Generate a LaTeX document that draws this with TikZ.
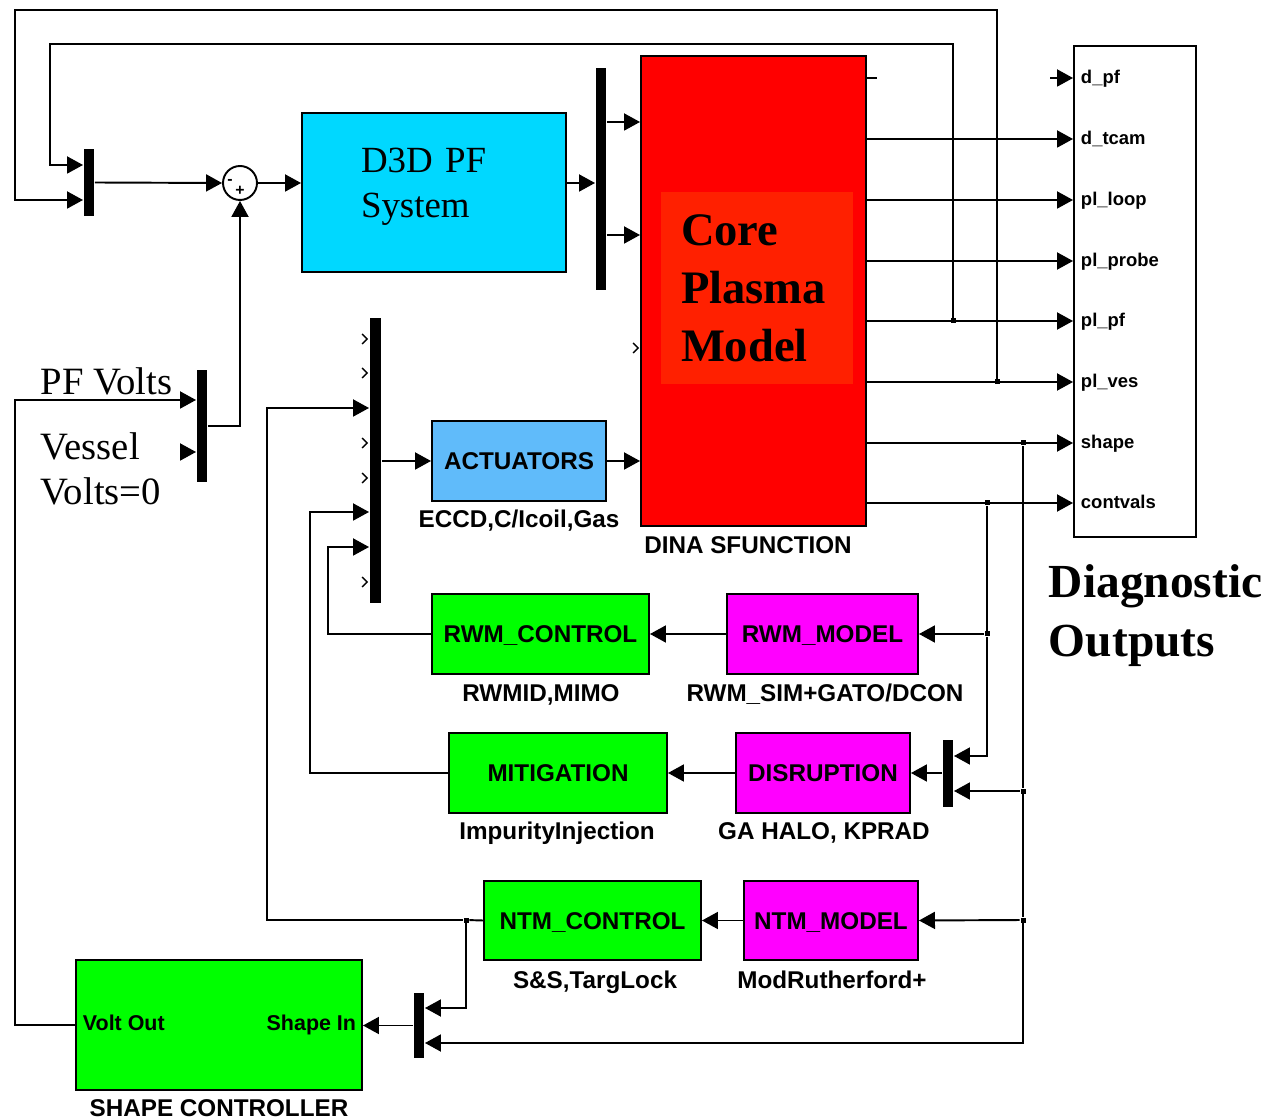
\documentclass[tikz,border=0pt]{standalone}
\usepackage{fontspec}
\setmainfont{Liberation Serif}
\setsansfont{Liberation Sans}
\usetikzlibrary{arrows.meta}

\definecolor{pfcyan}{RGB}{0,216,255}
\definecolor{actblue}{RGB}{96,187,250}
\definecolor{ctlgreen}{RGB}{0,255,0}
\definecolor{modmag}{RGB}{255,0,255}
\definecolor{plasred}{RGB}{255,32,0}

\begin{document}
\begin{tikzpicture}[
  x=0.2mm, y=-0.2mm, line width=1.1pt,
  blk/.style={draw, minimum height=16mm, inner sep=0pt, font=\sffamily\bfseries\fontsize{13.8}{16}\selectfont},
  lblbox/.style={blk, text height=9.9pt, text depth=0pt},
  bar/.style={fill=black, inner sep=0pt, minimum width=2mm},
  note/.style={anchor=base, inner sep=0pt, font=\sffamily\bfseries\fontsize{13.8}{16}\selectfont},
  port/.style={anchor=base west, inner sep=0pt, font=\sffamily\bfseries\fontsize{10.5}{12}\selectfont},
  serif/.style={anchor=base west, inner sep=0pt, font=\fontsize{22}{26}\selectfont},
  arr/.style={-{Triangle[length=3.2mm,width=3.4mm]}},
  dot/.style={fill=black, inner sep=0pt, minimum size=1mm},
  chev/.style={line width=0.8pt}
]
\useasboundingbox (0,0) rectangle (1270,1119);

% PF loop
\node[bar, minimum height=13.4mm] (muxfb) at (89,182.5) {};
\node[circle, draw, fill=white, minimum size=6.8mm, inner sep=0pt] (sum) at (240,183) {};
\node[inner sep=0pt, font=\sffamily\bfseries\fontsize{9}{9}\selectfont] (summinus) at (230,182) {-};
\node[inner sep=0pt, font=\sffamily\bfseries\fontsize{9}{9}\selectfont] (sumplus) at (240,191) {+};
\node[blk, fill=pfcyan, minimum width=52.8mm, minimum height=31.8mm, text width=29.2mm, text depth=37pt, align=left, font=\fontsize{21}{25.5}\selectfont] (pfsys) at (434,192.5) {D3D PF\\System};
\node[bar, minimum height=44.4mm] (muxcore) at (601,179) {};
\node[bar, minimum height=22.4mm] (muxpf) at (202,426) {};

% Core
\node[blk, fill=red, minimum width=45mm, minimum height=94mm] (core) at (753.5,291) {};
\node[fill=plasred, minimum width=38.4mm, minimum height=38.4mm, inner sep=0pt, text width=30.4mm, align=left, font=\bfseries\fontsize{26.5}{33}\selectfont] (plasma) at (757,288) {Core\\Plasma\\Model};
\node[note] (dina) at (748,554) {DINA SFUNCTION};

% Outputs
\node[draw, minimum width=24.4mm, minimum height=98.2mm] (outbox) at (1135,291.5) {};
\foreach \y/\t in {78/d\_pf, 139/d\_tcam, 200/pl\_loop, 261/pl\_probe, 321/pl\_pf, 382/pl\_ves, 443/shape, 503/contvals}
  \node[port] (o\y) at (1080,\y+6) {\t};
\node[anchor=north west, inner sep=0pt, align=left, font=\bfseries\fontsize{27}{33.5}\selectfont] (diag) at (1048,564) {Diagnostic\\Outputs};

% Actuators
\node[bar, minimum width=2.2mm, minimum height=57mm] (muxact) at (375.5,460.5) {};
\node[lblbox, fill=actblue, minimum width=34.8mm] (act) at (519,461) {ACTUATORS};
\node[note] (actnote) at (519,528) {ECCD,C/Icoil,Gas};

% RWM
\node[lblbox, fill=ctlgreen, minimum width=43.4mm] (rwmctl) at (540.5,634) {RWM\_CONTROL};
\node[lblbox, fill=modmag, minimum width=38.2mm] (rwmmod) at (822.5,634) {RWM\_MODEL};
\node[note] (rwmcnote) at (541,701) {RWMID,MIMO};
\node[note] (rwmmnote) at (825,701) {RWM\_SIM+GATO/DCON};

% Disruption
\node[lblbox, fill=ctlgreen, minimum width=43.6mm] (mitig) at (558,773) {MITIGATION};
\node[lblbox, fill=modmag, minimum width=34.8mm] (disr) at (823,773) {DISRUPTION};
\node[bar, minimum height=13.4mm] (muxdis) at (948,773) {};
\node[note] (mitnote) at (557,839) {ImpurityInjection};
\node[note] (disnote) at (824,839) {GA HALO, KPRAD};

% NTM
\node[lblbox, fill=ctlgreen, minimum width=43.4mm, minimum height=15.8mm] (ntmctl) at (592.5,920.5) {NTM\_CONTROL};
\node[lblbox, fill=modmag, minimum width=34.8mm, minimum height=15.8mm] (ntmmod) at (831,920.5) {NTM\_MODEL};
\node[note] (ntmcnote) at (595,988) {S\&S,TargLock};
\node[note] (ntmmnote) at (832,988) {ModRutherford+};

% Shape controller
\node[blk, fill=ctlgreen, minimum width=57.2mm, minimum height=26mm] (shapectl) at (219,1025) {};
\node[note, anchor=base west, font=\sffamily\bfseries\fontsize{12.2}{14}\selectfont] (voltout) at (82,1030) {Volt Out};
\node[note, anchor=base east, font=\sffamily\bfseries\fontsize{12.2}{14}\selectfont] (shapein) at (357,1030) {Shape In};
\node[bar, minimum height=13mm] (muxshape) at (419,1025.5) {};
\node[note] (shapenote) at (219,1116) {SHAPE CONTROLLER};

% Volts labels
\node[serif] (pfvolts) at (40,395) {PF Volts};
\node[serif] (vessel) at (40,460) {Vessel};
\node[serif] (voltszero) at (40,505) {Volts=0};

% Branch points
\node[dot] (jpf) at (953,321) {};
\node[dot] (jves) at (997,382) {};
\node[dot] (jsh) at (1023,443) {};
\node[dot] (jcv) at (987,503) {};
\node[dot] (jrwm) at (987,634) {};
\node[dot] (jdis) at (1023,791) {};
\node[dot] (jntm) at (1023,920) {};
\node[dot] (jnc) at (466,920) {};
\coordinate (vzero) at (180,452);
\coordinate (dpfin) at (1050,78);

% Arrows
\draw[arr] (jpf) |- (50,44) |- (muxfb.west |- 0,165);
\draw[arr] (jves) |- (15,10) |- (muxfb.west |- 0,200);
\draw[arr] (muxfb.east) -- (sum.west);
\draw[arr] (sum.east) -- (pfsys.west |- sum.east);
\draw[arr] (pfsys.east |- sum.east) -- (muxcore.west |- sum.east);
\draw[arr] (muxcore.east |- 0,122) -- (core.west |- 0,122);
\draw[arr] (muxcore.east |- 0,235) -- (core.west |- 0,235);
\draw[arr] (shapectl.west) -| (15,400) -- (muxpf.west |- 0,400);
\draw[arr] (vzero) -- (muxpf.west |- vzero);
\draw[arr] (muxpf.east) -| (sum.south);
\draw (core.east |- 0,78) -- ++(10,0);
\draw[arr] (dpfin) -- (outbox.west |- dpfin);
\foreach \y in {139,200,261,321,382,443,503}
  \draw[arr] (core.east |- 0,\y) -- (outbox.west |- 0,\y);
\draw[arr] (act.west -| muxact.east) -- (act.west);
\draw[arr] (act.east) -- (core.west |- act.east);
\draw (jcv) -- (jrwm);
\draw[arr] (jrwm) -- (rwmmod.east);
\draw[arr] (jrwm) |- (muxdis.east |- 0,756);
\draw[arr] (rwmmod.west) -- (rwmctl.east);
\draw[arr] (rwmctl.west) -| (328,547) -- (muxact.west |- 0,547);
\draw[arr] (muxdis.west) -- (disr.east);
\draw[arr] (disr.west) -- (mitig.east);
\draw[arr] (mitig.west) -| (310,512) -- (muxact.west |- 0,512);
\draw (jsh) -- (jdis) -- (jntm);
\draw[arr] (jdis) -- (muxdis.east |- jdis);
\draw[arr] (jntm) |- (muxshape.east |- 0,1043);
\draw[arr] (jntm) -- (ntmmod.east);
\draw[arr] (ntmmod.west) -- (ntmctl.east);
\draw (ntmctl.west) -- (jnc);
\draw[arr] (jnc) -| (267,408) -- (muxact.west |- 0,408);
\draw[arr] (jnc) |- (muxshape.east |- 0,1008);
\draw[arr] (muxshape.west) -- (shapectl.east |- muxshape.west);

% Open ports
\foreach \y in {339,373,443,478,582}
  \draw[chev] (muxact.west |- 0,\y) ++(-7,-5) -- ++(5,5) -- ++(-5,5);
\draw[chev] (core.west |- 0,348) ++(-7,-5) -- ++(5,5) -- ++(-5,5);
\end{tikzpicture}
\end{document}
